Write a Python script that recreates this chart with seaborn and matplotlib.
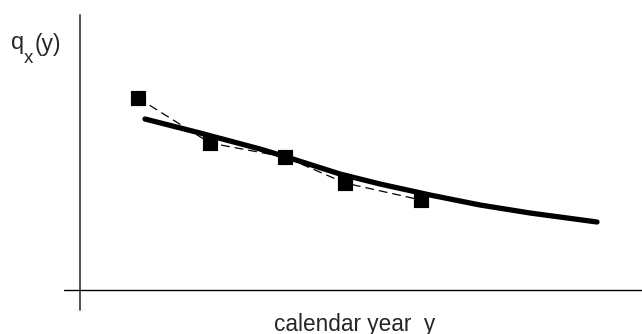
import matplotlib
matplotlib.use("Agg")
import matplotlib.pyplot as plt
import seaborn as sns
import pandas as pd

sns.set_style("white")
plt.rcParams['font.family'] = ['Liberation Sans', 'DejaVu Sans']

# observed rates (squares) and smoothed trend (thick line), arbitrary units
obs_year = [138, 210, 285, 345, 421]
obs_q = [236, 191, 177, 151, 134]
fit_year = [145, 200, 260, 285, 340, 380, 430, 480, 530, 597]
fit_q = [215, 201, 185, 177.5, 160, 150, 139, 129, 121, 112]

obs = pd.DataFrame({"year": obs_year, "q": obs_q})
fit = pd.DataFrame({"year": fit_year, "q": fit_q})

fig = plt.figure(figsize=(6.42, 3.34), dpi=100)
ax = fig.add_axes([0, 0, 1, 1])
ax.set_xlim(0, 642)
ax.set_ylim(0, 334)
for s in ax.spines.values():
    s.set_visible(False)
ax.set_xticks([])
ax.set_yticks([])

# axes lines
ax.plot([80, 80], [334 - 15, 334 - 310], color="#444444", lw=1.3)
ax.plot([64, 642], [334 - 290, 334 - 290], color="black", lw=1.0)

sns.lineplot(data=fit, x="year", y="q", ax=ax, color="black", lw=3.8, sort=False)
sns.lineplot(data=obs, x="year", y="q", ax=ax, color="black", lw=0.9,
             dashes=False, linestyle=(0, (7, 4)), sort=False)
sns.scatterplot(data=obs, x="year", y="q", ax=ax, marker="s", s=110,
                color="black", edgecolor="black", zorder=5)

ax.set_xlabel("")
ax.set_ylabel("")
ax.text(11, 334 - 49, "q", fontsize=17, ha="left", va="baseline")
ax.text(23.5, 334 - 63, "x", fontsize=13.5, ha="left", va="baseline")
ax.text(35, 334 - 51, "(y)", fontsize=16.5, ha="left", va="baseline")
ax.text(355, 334 - 331.5, "calendar year  y", fontsize=16.3, ha="center", va="baseline")

fig.savefig("out.png", dpi=100)
